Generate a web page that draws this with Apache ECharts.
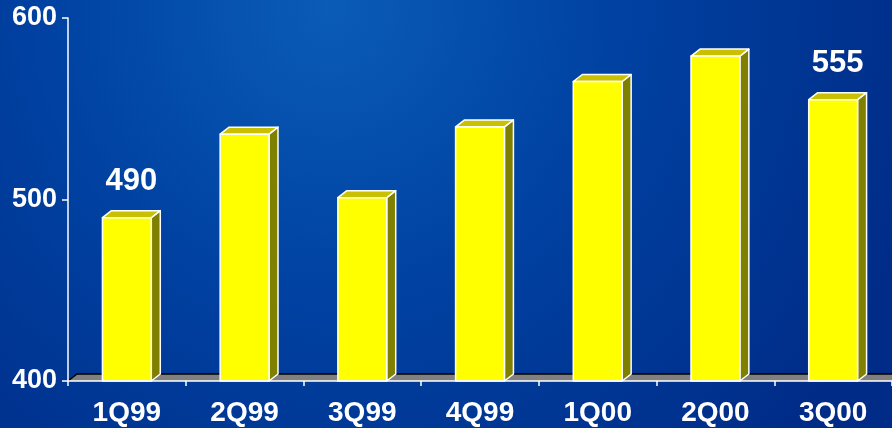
<!DOCTYPE html>
<html>
<head>
<meta charset="utf-8">
<script src="https://cdn.jsdelivr.net/npm/echarts@6/dist/echarts.min.js"></script>
<style>
  html, body { margin: 0; padding: 0; }
  #chart { width: 892px; height: 428px; }
</style>
</head>
<body>
<div id="chart"></div>
<script>
// Quarterly values
const categories = ['1Q99', '2Q99', '3Q99', '4Q99', '1Q00', '2Q00', '3Q00'];
const values = [490, 536, 501, 540, 565, 579, 555];
// Quarters whose value is printed above the bar
const labeledCategories = ['1Q99', '3Q00'];
// Value axis range and tick step
const yMin = 400;
const yMax = 600;
const yStep = 100;

// Extrusion depth of the pseudo-3D bars and floor
const DEPTH_X = 9;
const DEPTH_Y = 7;
const FONT = '"Liberation Sans", Arial, sans-serif';

const chart = echarts.init(document.getElementById('chart'));

function renderFloor(params, api) {
  const cs = params.coordSys;
  const x0 = cs.x, x1 = cs.x + cs.width + 20;
  const y0 = api.coord([0, yMin])[1];
  return {
    type: 'group',
    children: [
      {
        type: 'polygon',
        shape: { points: [[x0, y0], [x1, y0], [x1 + DEPTH_X, y0 - DEPTH_Y], [x0 + DEPTH_X, y0 - DEPTH_Y]] },
        style: { fill: '#808080' }
      },
      {
        type: 'polyline',
        shape: { points: [[x0, y0], [x0 + DEPTH_X, y0 - DEPTH_Y], [x1 + DEPTH_X, y0 - DEPTH_Y]] },
        style: { stroke: '#000000', lineWidth: 1.5, fill: null }
      }
    ]
  };
}

function renderBar(params, api) {
  const cat = api.value(0);
  const v = api.value(1);
  const base = api.coord([cat, yMin]);
  const top = api.coord([cat, v]);
  const bw = api.size([1, 0])[0] * 0.415;
  const xl = base[0] - bw / 2, xr = base[0] + bw / 2;
  const yb = base[1], yt = top[1];
  const edge = { stroke: '#ffffff', lineWidth: 1.5, lineJoin: 'round' };
  const children = [
    {
      type: 'polygon',
      shape: { points: [[xr, yb], [xr, yt], [xr + DEPTH_X, yt - DEPTH_Y], [xr + DEPTH_X, yb - DEPTH_Y]] },
      style: Object.assign({ fill: '#808000' }, edge)
    },
    {
      type: 'polygon',
      shape: { points: [[xl, yt], [xr, yt], [xr + DEPTH_X, yt - DEPTH_Y], [xl + DEPTH_X, yt - DEPTH_Y]] },
      style: Object.assign({ fill: '#c8c000' }, edge)
    },
    {
      type: 'polygon',
      shape: { points: [[xl, yb], [xr, yb], [xr, yt], [xl, yt]] },
      style: Object.assign({ fill: '#ffff00' }, edge)
    }
  ];
  if (labeledCategories.indexOf(categories[params.dataIndex]) >= 0) {
    children.push({
      type: 'text',
      style: {
        text: String(v),
        x: base[0] + DEPTH_X / 2,
        y: yt - 21,
        align: 'center',
        verticalAlign: 'bottom',
        fill: '#ffffff',
        font: 'bold 31px ' + FONT
      }
    });
  }
  return { type: 'group', children: children };
}

chart.setOption({
  animation: false,
  backgroundColor: {
    type: 'radial',
    x: 0.37, y: 0.02, r: 1.45,
    colorStops: [
      { offset: 0, color: '#0a5cb6' },
      { offset: 0.45, color: '#0042a2' },
      { offset: 1, color: '#002c88' }
    ]
  },
  grid: { left: 68, right: -2, top: 18, bottom: 47, containLabel: false },
  xAxis: {
    type: 'category',
    data: categories,
    z: 5,
    axisLine: { show: true, lineStyle: { color: '#ffffff', width: 1.5 } },
    axisTick: { show: true, alignWithLabel: false, length: 5, lineStyle: { color: '#ffffff', width: 1.5 } },
    axisLabel: { color: '#ffffff', fontFamily: FONT, fontWeight: 'bold', fontSize: 28, margin: 18 },
    splitLine: { show: false }
  },
  yAxis: {
    type: 'value',
    min: yMin, max: yMax, interval: yStep,
    z: 5,
    axisLine: { show: true, lineStyle: { color: '#ffffff', width: 1.5 } },
    axisTick: { show: true, length: 6, lineStyle: { color: '#ffffff', width: 1.5 } },
    axisLabel: { color: '#ffffff', fontFamily: FONT, fontWeight: 'bold', fontSize: 27, margin: 11 },
    splitLine: { show: false }
  },
  series: [
    {
      type: 'custom',
      renderItem: renderFloor,
      data: [[0, yMin]],
      encode: { x: 0, y: 1 },
      silent: true,
      z: 1
    },
    {
      type: 'custom',
      renderItem: renderBar,
      data: values.map((v, i) => [i, v]),
      encode: { x: 0, y: 1 },
      z: 2
    }
  ]
});
</script>
</body>
</html>
